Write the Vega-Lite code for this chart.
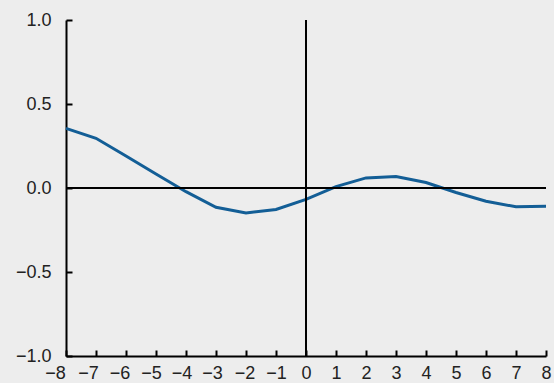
{
  "$schema": "https://vega.github.io/schema/vega-lite/v6.json",
  "width": 480,
  "height": 336,
  "autosize": "none",
  "padding": {"left": 66, "top": 20, "right": 8, "bottom": 27},
  "background": "#ededed",
  "config": {
    "view": {"stroke": null},
    "axis": {
      "grid": false,
      "title": null,
      "domainColor": "black",
      "domainWidth": 2,
      "tickColor": "black",
      "tickWidth": 2,
      "tickSize": -6,
      "labelFont": "Liberation Sans",
      "labelFontSize": 18,
      "labelColor": "#222222",
      "labelOverlap": false
    },
    "axisX": {"labelPadding": 14, "labelFlush": false},
    "axisY": {"labelPadding": 21}
  },
  "data": {"values": [
    {"x": -8, "y": 0.355},
    {"x": -7, "y": 0.296},
    {"x": -6, "y": 0.19},
    {"x": -5, "y": 0.083},
    {"x": -4, "y": -0.022},
    {"x": -3, "y": -0.115},
    {"x": -2, "y": -0.149},
    {"x": -1, "y": -0.128},
    {"x": 0, "y": -0.068},
    {"x": 1, "y": 0.008},
    {"x": 2, "y": 0.06},
    {"x": 3, "y": 0.068},
    {"x": 4, "y": 0.033},
    {"x": 5, "y": -0.027},
    {"x": 6, "y": -0.079},
    {"x": 7, "y": -0.112},
    {"x": 8, "y": -0.109}
  ]},
  "layer": [
    {
      "mark": {"type": "line", "color": "#135e96", "strokeWidth": 3},
      "encoding": {
        "x": {
          "field": "x", "type": "quantitative",
          "scale": {"domain": [-8, 8], "nice": false, "zero": false},
          "axis": {"values": [-8,-7,-6,-5,-4,-3,-2,-1,0,1,2,3,4,5,6,7,8], "format": "d",
            "labelOffset": {"expr": "datum.value == -8 ? -11 : datum.value == -7 ? -8 : datum.value == -6 ? -6.5 : datum.value == -5 ? -5 : datum.value == -4 ? -4.5 : datum.value == -3 ? -4 : datum.value == -2 ? -1.5 : 0"}}
        },
        "y": {
          "field": "y", "type": "quantitative",
          "scale": {"domain": [-1, 1], "nice": false},
          "axis": {"values": [-1, -0.5, 0, 0.5, 1], "format": ".1f"}
        }
      }
    },
    {
      "mark": {"type": "rule", "color": "black", "strokeWidth": 2},
      "encoding": {"y": {"datum": 0, "type": "quantitative",
        "axis": {"values": [-1, -0.5, 0, 0.5, 1], "format": ".1f"}}}
    },
    {
      "mark": {"type": "rule", "color": "black", "strokeWidth": 2},
      "encoding": {"x": {"datum": 0, "type": "quantitative",
        "axis": {"values": [-8,-7,-6,-5,-4,-3,-2,-1,0,1,2,3,4,5,6,7,8], "format": "d",
          "labelOffset": {"expr": "datum.value == -8 ? -11 : datum.value == -7 ? -8 : datum.value == -6 ? -6.5 : datum.value == -5 ? -5 : datum.value == -4 ? -4.5 : datum.value == -3 ? -4 : datum.value == -2 ? -1.5 : 0"}}}}
    }
  ]
}
